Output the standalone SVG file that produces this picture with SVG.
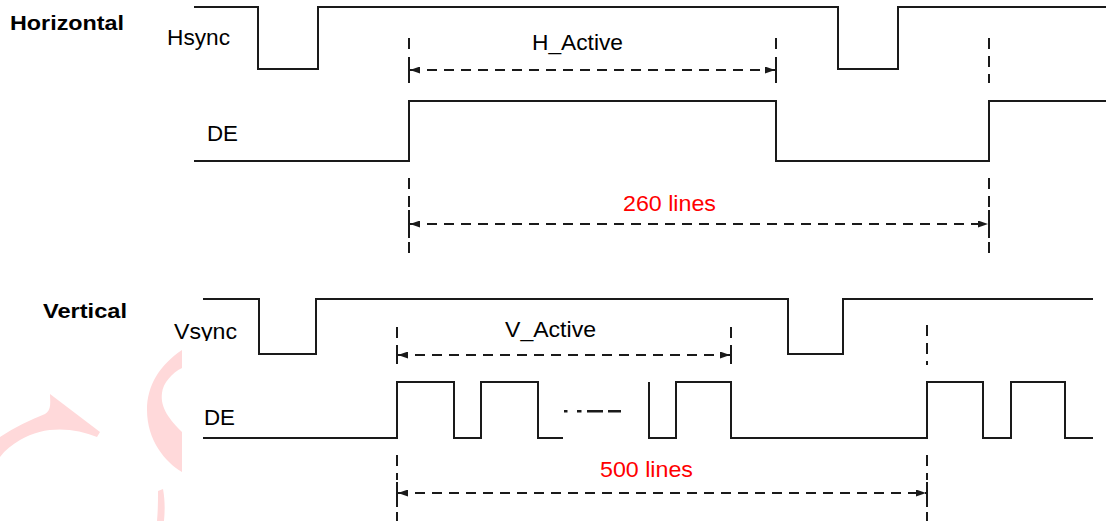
<svg xmlns="http://www.w3.org/2000/svg" width="1106" height="521" viewBox="0 0 1106 521">
  <style>
    .sig { fill: none; stroke: #1a1a1a; stroke-width: 2; stroke-linejoin: miter; }
    .dash { fill: none; stroke: #1a1a1a; stroke-width: 2; stroke-dasharray: 10 7; }
    .vdash { fill: none; stroke: #1a1a1a; stroke-width: 2; stroke-dasharray: 11 7; }
    .tick { fill: none; stroke: #1a1a1a; stroke-width: 2; }
    .lbl { font-family: "Liberation Sans", Arial, sans-serif; font-size: 22px; fill: #000; }
    .ttl { font-family: "Liberation Sans", Arial, sans-serif; font-size: 20px; font-weight: bold; fill: #000; }
    .red { font-family: "Liberation Sans", Arial, sans-serif; font-size: 22px; fill: #ff0000; }
    .wm { fill: #ffd9da; stroke: none; }
  </style>
  <defs>
    <marker id="arrow" viewBox="0 0 10 7" refX="10" refY="3.5" markerWidth="10" markerHeight="7" markerUnits="userSpaceOnUse" orient="auto-start-reverse">
      <path d="M0,0 L10,3.5 L0,7 Z" fill="#1a1a1a"/>
    </marker>
    <clipPath id="vsyncClip">
      <rect x="150" y="300" width="120" height="41"/>
    </clipPath>
  </defs>
  <rect width="1106" height="521" fill="#ffffff"/>

  <g id="watermark">
    <path class="wm" d="M0,437 C15,427 30,420 45,414 C52,410 50,401 50,394 L100,432 L97,437 C75,428 45,425 20,440 C12,445 5,450 0,457 Z"/>
    <path class="wm" d="M182,350 C160,365 147,385 147,410 C147,440 165,462 182,472 L182,432 C170,420 160,408 162,393 C163,383 172,373 182,368 Z"/>
    <path class="wm" d="M158,491 L163,489 C165,500 165,510 164,521 L157,521 C158,510 158,500 158,491 Z"/>
  </g>

  <g id="titles">
    <text class="ttl" x="10" y="30" textLength="114" lengthAdjust="spacingAndGlyphs">Horizontal</text>
    <text class="ttl" x="43" y="318" textLength="84" lengthAdjust="spacingAndGlyphs">Vertical</text>
  </g>

  <g id="hsync">
    <path class="sig" d="M194,7 H258 V69 H318 V7 H838 V69 H898 V7 H1106"/>
    <text class="lbl" x="167" y="45" textLength="63" lengthAdjust="spacingAndGlyphs">Hsync</text>
  </g>

  <g id="de-h">
    <path class="sig" d="M194,161 H409 V101 H776 V161 H989 V101 H1106"/>
    <text class="lbl" x="207" y="141" textLength="31" lengthAdjust="spacingAndGlyphs">DE</text>
  </g>

  <g id="vsync">
    <path class="sig" d="M203,299 H259 V354 H316 V299 H788 V354 H843 V299 H1093"/>
    <text class="lbl" x="174" y="339" textLength="63" lengthAdjust="spacingAndGlyphs" clip-path="url(#vsyncClip)">Vsync</text>
  </g>

  <g id="de-v">
    <path class="sig" d="M203,438 H397 V382 H454 V438 H481 V382 H538 V438 H563"/>
    <path class="sig" d="M649,382 V438 H676 V382 H731 V438 H927 V382 H983 V438 H1011 V382 H1065 V438 H1093"/>
    <g fill="#1a1a1a">
      <rect x="564" y="410" width="3.5" height="2.5"/>
      <rect x="577" y="410" width="4.5" height="2.5"/>
      <rect x="587" y="410" width="16" height="2.5"/>
      <rect x="608" y="410" width="13" height="2.5"/>
    </g>
    <text class="lbl" x="204" y="425" textLength="31" lengthAdjust="spacingAndGlyphs">DE</text>
  </g>

  <g id="connectors">
    <!-- H_Active -->
    <line class="vdash" x1="409" y1="38" x2="409" y2="56"/>
    <line class="tick" x1="409" y1="57" x2="409" y2="83"/>
    <line class="vdash" x1="776" y1="38" x2="776" y2="56"/>
    <line class="tick" x1="776" y1="57" x2="776" y2="83"/>
    <line class="dash" x1="410" y1="70" x2="775" y2="70" marker-start="url(#arrow)" marker-end="url(#arrow)"/>
    <line class="vdash" x1="989" y1="38" x2="989" y2="83"/>

    <!-- 260 lines -->
    <line class="vdash" x1="409" y1="178" x2="409" y2="208"/>
    <line class="tick" x1="409" y1="210" x2="409" y2="238"/>
    <line class="vdash" x1="409" y1="242" x2="409" y2="256"/>
    <line class="vdash" x1="989" y1="178" x2="989" y2="208"/>
    <line class="tick" x1="989" y1="210" x2="989" y2="238"/>
    <line class="vdash" x1="989" y1="242" x2="989" y2="256"/>
    <line class="dash" x1="410" y1="224" x2="988" y2="224" marker-start="url(#arrow)" marker-end="url(#arrow)"/>

    <!-- V_Active -->
    <line class="vdash" x1="397" y1="327" x2="397" y2="340"/>
    <line class="tick" x1="397" y1="345" x2="397" y2="364"/>
    <line class="vdash" x1="731" y1="327" x2="731" y2="340"/>
    <line class="tick" x1="731" y1="345" x2="731" y2="364"/>
    <line class="dash" x1="398" y1="355" x2="730" y2="355" marker-start="url(#arrow)" marker-end="url(#arrow)"/>
    <line class="vdash" x1="927" y1="325" x2="927" y2="365"/>

    <!-- 500 lines -->
    <line class="vdash" x1="397" y1="455" x2="397" y2="480"/>
    <line class="tick" x1="397" y1="482" x2="397" y2="507"/>
    <line class="vdash" x1="397" y1="512" x2="397" y2="521"/>
    <line class="vdash" x1="927" y1="455" x2="927" y2="480"/>
    <line class="tick" x1="927" y1="482" x2="927" y2="507"/>
    <line class="vdash" x1="927" y1="512" x2="927" y2="521"/>
    <line class="dash" x1="398" y1="493" x2="926" y2="493" marker-start="url(#arrow)" marker-end="url(#arrow)"/>
  </g>

  <g id="labels">
    <text class="lbl" x="532" y="50" textLength="91" lengthAdjust="spacingAndGlyphs">H_Active</text>
    <text class="red" x="623" y="211" textLength="93" lengthAdjust="spacingAndGlyphs">260 lines</text>
    <text class="lbl" x="505" y="337" textLength="91" lengthAdjust="spacingAndGlyphs">V_Active</text>
    <text class="red" x="600" y="477" textLength="93" lengthAdjust="spacingAndGlyphs">500 lines</text>
  </g>
</svg>
